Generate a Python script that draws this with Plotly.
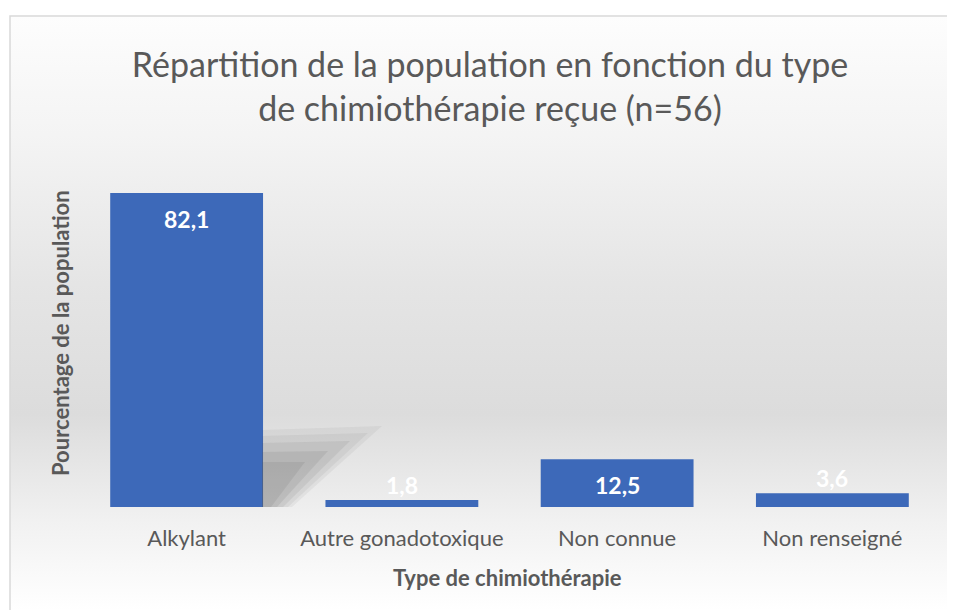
import plotly.graph_objects as go

# la page HTML décale la figure de 8 px (marge du body)
OFF = 8
W, H = 955 - OFF, 610 - OFF

categories = ["Alkylant", "Autre gonadotoxique", "Non connue", "Non renseigné"]
pourcentages = [82.1, 1.8, 12.5, 3.6]
etiquettes = ["82,1", "1,8", "12,5", "3,6"]
etiquette_dedans = [True, False, True, False]

TEXT = "#595959"
BAR = "#3d69b9"
FONT = "Lato"


def px_x(x):
    return (x - OFF) / W


def px_y(y):
    return 1 - (y - OFF) / H


def path(points):
    pts = [f"{px_x(x):.4f},{px_y(y):.4f}" for x, y in points]
    return "M" + " L".join(pts) + " Z"


fig = go.Figure()

# fond dégradé (style Excel) sur un sous-graphe caché couvrant toute la zone du graphique
fig.add_trace(
    go.Scatter(
        x=[0, 1, 1, 0, 0],
        y=[0, 0, 1, 1, 0],
        mode="lines",
        fill="toself",
        fillgradient=dict(
            type="vertical",
            colorscale=[
                [0.0, "#ffffff"],
                [0.15, "#f1f1f1"],
                [0.33, "#dcdcdc"],
                [0.55, "#e5e5e5"],
                [0.8, "#f4f4f4"],
                [1.0, "#fdfdfd"],
            ],
        ),
        line=dict(width=0),
        hoverinfo="skip",
        showlegend=False,
        xaxis="x",
        yaxis="y",
    )
)

fig.add_trace(
    go.Bar(
        x=categories,
        y=pourcentages,
        marker=dict(color=BAR, line=dict(width=0)),
        width=0.71,
        showlegend=False,
        hovertemplate="%{x}: %{y:.1f} %<extra></extra>",
        xaxis="x2",
        yaxis="y2",
    )
)

# étiquettes de valeurs, placées comme dans Excel (« bord intérieur »)
annotations = [
    dict(
        x=cat,
        y=val,
        xref="x2",
        yref="y2",
        text=f"<b>{txt}</b>",
        showarrow=False,
        yanchor="middle",
        yshift=-26 if dedans else 15,
        font=dict(family=FONT, size=23, color="white"),
    )
    for cat, val, txt, dedans in zip(categories, pourcentages, etiquettes, etiquette_dedans)
]

annotations += [
    dict(
        text="<b>Type de chimiothérapie</b>",
        xref="paper",
        yref="paper",
        x=px_x(508),
        y=px_y(577),
        xanchor="center",
        yanchor="middle",
        showarrow=False,
        font=dict(family=FONT, size=22, color=TEXT),
    ),
    dict(
        text="<b>Pourcentage de la population</b>",
        xref="paper",
        yref="paper",
        x=px_x(60),
        y=px_y(333),
        xanchor="center",
        yanchor="middle",
        textangle=-90,
        showarrow=False,
        font=dict(family=FONT, size=22, color=TEXT),
    ),
]

# ombre portée (floue) de la première barre : couches superposées
shadow_layers = [
    ([(262, 430), (382, 426), (292, 507), (262, 507)], 0.07),
    ([(262, 436), (368, 433), (288, 507), (262, 507)], 0.08),
    ([(262, 443), (350, 441), (283, 507), (262, 507)], 0.10),
    ([(262, 452), (328, 451), (277, 507), (262, 507)], 0.12),
    ([(262, 462), (305, 462), (271, 507), (262, 507)], 0.12),
]

shapes = [
    dict(
        type="path",
        xref="paper",
        yref="paper",
        path=path(pts),
        fillcolor=f"rgba(90,90,90,{alpha})",
        line=dict(width=0),
        layer="above",
    )
    for pts, alpha in shadow_layers
]
shapes.append(
    dict(
        type="rect",
        xref="paper",
        yref="paper",
        x0=px_x(10),
        x1=1.01,
        y0=-0.01,
        y1=px_y(16),
        line=dict(color="#d9d9d9", width=1.5),
        fillcolor="rgba(0,0,0,0)",
    )
)

fig.update_layout(
    width=W,
    height=H,
    margin=dict(l=0, r=0, t=0, b=0),
    paper_bgcolor="white",
    plot_bgcolor="rgba(0,0,0,0)",
    font=dict(family=FONT, color=TEXT),
    title=dict(
        text="Répartition de la population en fonction du type<br>de chimiothérapie reçue (n=56)",
        font=dict(family=FONT, size=34, color=TEXT),
        x=px_x(490),
        xanchor="center",
        y=px_y(77),
        yanchor="middle",
    ),
    xaxis=dict(domain=[px_x(10), 1], range=[0, 1], visible=False, fixedrange=True),
    yaxis=dict(domain=[0, px_y(16)], range=[0, 1], visible=False, fixedrange=True),
    xaxis2=dict(
        domain=[px_x(79), px_x(940)],
        anchor="y2",
        showgrid=False,
        showline=False,
        zeroline=False,
        ticks="outside",
        ticklen=12,
        tickcolor="rgba(0,0,0,0)",
        tickfont=dict(family=FONT, size=22, color=TEXT),
    ),
    yaxis2=dict(
        domain=[px_y(507), px_y(180)],
        anchor="x2",
        range=[0, 85.5],
        visible=False,
    ),
    shapes=shapes,
    annotations=annotations,
)

fig.write_html("out.html")
